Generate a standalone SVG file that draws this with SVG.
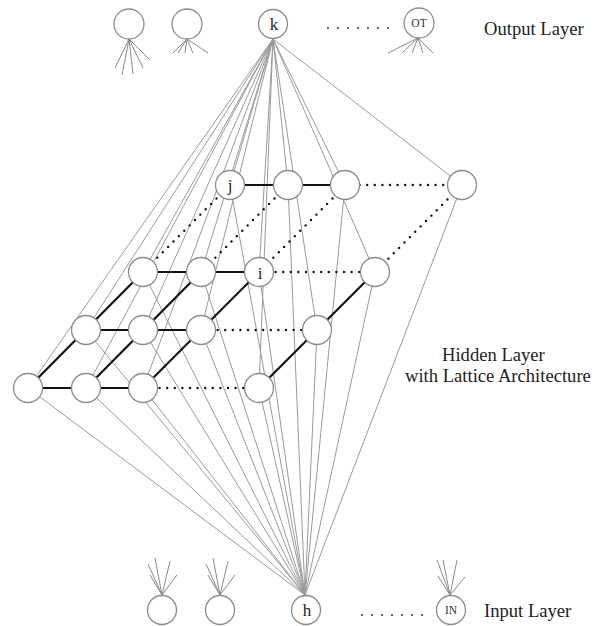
<svg xmlns="http://www.w3.org/2000/svg" width="608" height="626" viewBox="0 0 608 626">
<style>
.thin{stroke:#9a9a9a;stroke-width:1;fill:none}
.fan{stroke:#8a8a8a;stroke-width:1;fill:none}
.solid{stroke:#111;stroke-width:2.2;fill:none}
.dot{stroke:#111;stroke-width:2.4;stroke-linecap:round;stroke-dasharray:0 7.6;fill:none}
.node{fill:#fff;stroke:#8c8c8c;stroke-width:1.3}
.lbl{font-size:17px;fill:#222;text-anchor:middle}
.sm{font-size:11.5px;fill:#333;text-anchor:middle}
.cap{font-size:18.6px;fill:#222}
.pd{fill:#444}
</style>
<g id="connectors">
<g id="k-links" class="thin">
<line x1="273" y1="39" x2="230" y2="185"/><line x1="273" y1="39" x2="288" y2="185"/><line x1="273" y1="39" x2="345" y2="185"/><line x1="273" y1="39" x2="462" y2="185"/>
<line x1="273" y1="39" x2="143" y2="272"/><line x1="273" y1="39" x2="201" y2="272"/><line x1="273" y1="39" x2="259" y2="272"/><line x1="273" y1="39" x2="375" y2="272"/>
<line x1="273" y1="39" x2="86" y2="330"/><line x1="273" y1="39" x2="143" y2="330"/><line x1="273" y1="39" x2="201" y2="330"/><line x1="273" y1="39" x2="317" y2="330"/>
<line x1="273" y1="39" x2="28" y2="388"/><line x1="273" y1="39" x2="86" y2="388"/><line x1="273" y1="39" x2="143" y2="388"/><line x1="273" y1="39" x2="259" y2="388"/>
</g>
<g id="h-links" class="thin">
<line x1="305" y1="595" x2="230" y2="185"/><line x1="305" y1="595" x2="288" y2="185"/><line x1="305" y1="595" x2="345" y2="185"/><line x1="305" y1="595" x2="462" y2="185"/>
<line x1="305" y1="595" x2="143" y2="272"/><line x1="305" y1="595" x2="201" y2="272"/><line x1="305" y1="595" x2="259" y2="272"/><line x1="305" y1="595" x2="375" y2="272"/>
<line x1="305" y1="595" x2="86" y2="330"/><line x1="305" y1="595" x2="143" y2="330"/><line x1="305" y1="595" x2="201" y2="330"/><line x1="305" y1="595" x2="317" y2="330"/>
<line x1="305" y1="595" x2="28" y2="388"/><line x1="305" y1="595" x2="86" y2="388"/><line x1="305" y1="595" x2="143" y2="388"/><line x1="305" y1="595" x2="259" y2="388"/>
</g>
<g id="lattice-solid" class="solid">
<line x1="230" y1="185" x2="345" y2="185"/>
<line x1="143" y1="272" x2="259" y2="272"/>
<line x1="86" y1="330" x2="201" y2="330"/>
<line x1="28" y1="388" x2="143" y2="388"/>
<line x1="28" y1="388" x2="143" y2="272"/>
<line x1="86" y1="388" x2="201" y2="272"/>
<line x1="143" y1="388" x2="259" y2="272"/>
<line x1="259" y1="388" x2="375" y2="272"/>
</g>
<g id="lattice-dotted" class="dot">
<line x1="352" y1="185" x2="452" y2="185"/>
<line x1="268" y1="272" x2="366" y2="272"/>
<line x1="210" y1="330" x2="308" y2="330"/>
<line x1="152" y1="388" x2="250" y2="388"/>
<line x1="152" y1="263" x2="222" y2="193"/>
<line x1="210" y1="263" x2="280" y2="193"/>
<line x1="268" y1="263" x2="338" y2="193"/>
<line x1="383" y1="264" x2="454" y2="193"/>
</g>
<g id="output-fans" class="fan">
<line x1="129" y1="39" x2="115" y2="68"/><line x1="129" y1="39" x2="122" y2="75"/><line x1="129" y1="39" x2="133" y2="74"/><line x1="129" y1="39" x2="143" y2="68"/><line x1="129" y1="39" x2="150" y2="60"/>
<line x1="187" y1="39" x2="173" y2="53"/><line x1="187" y1="39" x2="178" y2="53"/><line x1="187" y1="39" x2="185" y2="53"/><line x1="187" y1="39" x2="193" y2="53"/><line x1="187" y1="39" x2="208" y2="53"/>
<line x1="418" y1="38" x2="388" y2="53"/><line x1="418" y1="38" x2="402" y2="53"/><line x1="418" y1="38" x2="412" y2="53"/><line x1="418" y1="38" x2="423" y2="53"/><line x1="418" y1="38" x2="433" y2="53"/>
</g>
<g id="input-fans" class="fan">
<line x1="162" y1="595" x2="148" y2="564"/><line x1="162" y1="595" x2="155" y2="558"/><line x1="162" y1="595" x2="170" y2="561"/><line x1="162" y1="595" x2="177" y2="575"/><line x1="162" y1="595" x2="150" y2="575"/>
<line x1="220" y1="595" x2="206" y2="564"/><line x1="220" y1="595" x2="213" y2="558"/><line x1="220" y1="595" x2="228" y2="561"/><line x1="220" y1="595" x2="235" y2="575"/><line x1="220" y1="595" x2="208" y2="575"/>
<line x1="450" y1="595" x2="437" y2="560"/><line x1="450" y1="595" x2="443" y2="560"/><line x1="450" y1="595" x2="457" y2="560"/><line x1="450" y1="595" x2="465" y2="577"/><line x1="450" y1="595" x2="438" y2="576"/>
</g>
</g>
<g id="output-ellipsis" class="pd">
<circle cx="328" cy="28" r="1.1"/><circle cx="338" cy="28" r="1.1"/><circle cx="348" cy="28" r="1.1"/><circle cx="358" cy="28" r="1.1"/><circle cx="368" cy="28" r="1.1"/><circle cx="378" cy="28" r="1.1"/><circle cx="388" cy="28" r="1.1"/>
</g>
<g id="input-ellipsis" class="pd">
<circle cx="362" cy="615" r="1.1"/><circle cx="372" cy="615" r="1.1"/><circle cx="382" cy="615" r="1.1"/><circle cx="392" cy="615" r="1.1"/><circle cx="402" cy="615" r="1.1"/><circle cx="412" cy="615" r="1.1"/><circle cx="422" cy="615" r="1.1"/>
</g>
<g font-family="'Liberation Serif', 'Times New Roman', 'DejaVu Serif', serif">
<g id="out1"><circle class="node" cx="129" cy="24" r="15"/></g>
<g id="out2"><circle class="node" cx="187" cy="24" r="15"/></g>
<g id="k"><circle class="node" cx="273" cy="24" r="14.5"/><text class="lbl" x="274" y="30">k</text></g>
<g id="OT"><circle class="node" cx="419" cy="23" r="15"/><text class="sm" x="419" y="27">OT</text></g>
<g id="n-r1c1"><circle class="node" cx="230" cy="185" r="14.5"/><text class="lbl" x="230" y="191">j</text></g>
<g id="n-r1c2"><circle class="node" cx="288" cy="185" r="14.5"/></g>
<g id="n-r1c3"><circle class="node" cx="345" cy="185" r="14.5"/></g>
<g id="n-r1c4"><circle class="node" cx="462" cy="185" r="14.5"/></g>
<g id="n-r2c1"><circle class="node" cx="143" cy="272" r="14.5"/></g>
<g id="n-r2c2"><circle class="node" cx="201" cy="272" r="14.5"/></g>
<g id="n-r2c3"><circle class="node" cx="259" cy="272" r="14.5"/><text class="lbl" x="260" y="279">i</text></g>
<g id="n-r2c4"><circle class="node" cx="375" cy="272" r="14.5"/></g>
<g id="n-r3c1"><circle class="node" cx="86" cy="330" r="14.5"/></g>
<g id="n-r3c2"><circle class="node" cx="143" cy="330" r="14.5"/></g>
<g id="n-r3c3"><circle class="node" cx="201" cy="330" r="14.5"/></g>
<g id="n-r3c4"><circle class="node" cx="317" cy="330" r="14.5"/></g>
<g id="n-r4c1"><circle class="node" cx="28" cy="388" r="14.5"/></g>
<g id="n-r4c2"><circle class="node" cx="86" cy="388" r="14.5"/></g>
<g id="n-r4c3"><circle class="node" cx="143" cy="388" r="14.5"/></g>
<g id="n-r4c4"><circle class="node" cx="259" cy="388" r="14.5"/></g>
<g id="in1"><circle class="node" cx="162" cy="610" r="14.5"/></g>
<g id="in2"><circle class="node" cx="220" cy="610" r="14.5"/></g>
<g id="h"><circle class="node" cx="306" cy="610" r="14.5"/><text class="lbl" x="307" y="616">h</text></g>
<g id="IN"><circle class="node" cx="451" cy="610" r="14.5"/><text class="sm" x="451" y="614">IN</text></g>
<g id="labels">
<text class="cap" x="484" y="35">Output Layer</text>
<text class="cap" x="442" y="361">Hidden Layer</text>
<text class="cap" x="405" y="382">with Lattice Architecture</text>
<text class="cap" x="484" y="617">Input Layer</text>
</g>
</g>
</svg>
